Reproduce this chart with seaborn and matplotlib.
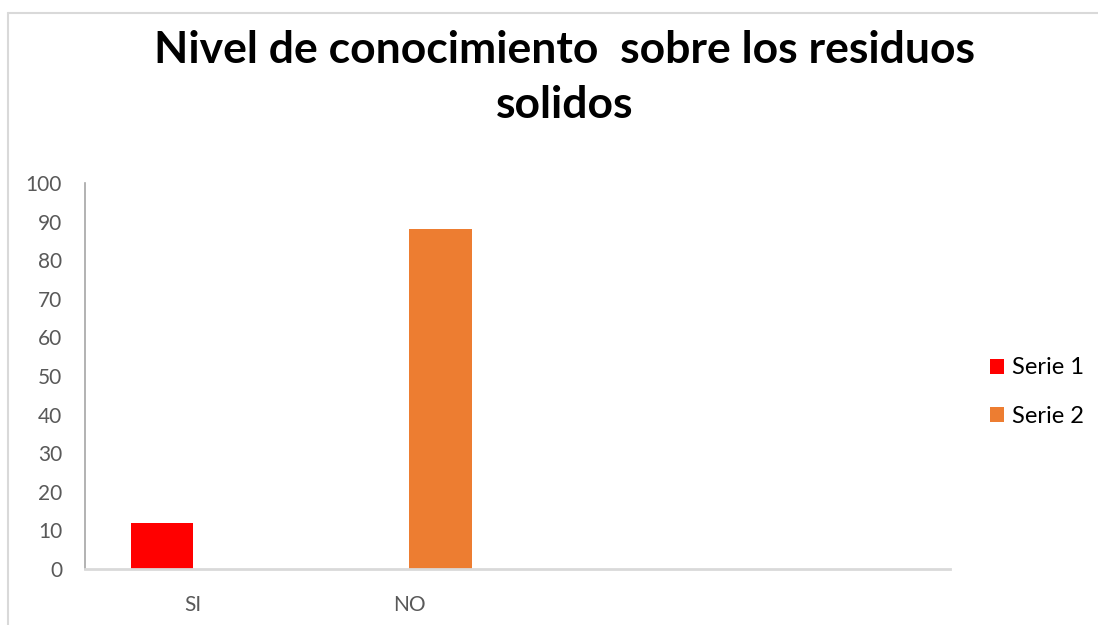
import matplotlib
matplotlib.use("Agg")
import matplotlib.pyplot as plt
from matplotlib.lines import Line2D
import pandas as pd
import seaborn as sns

# Survey answers per category and series
categories = ["SI", "NO"]
series_names = ["Serie 1", "Serie 2"]
serie1_values = [12, 0]
serie2_values = [0, 88]
y_ticks = [0, 10, 20, 30, 40, 50, 60, 70, 80, 90, 100]
title = "Nivel de conocimiento  sobre los residuos\nsolidos"

df = pd.DataFrame({
    "categoria": categories * 2,
    "serie": [series_names[0]] * len(categories) + [series_names[1]] * len(categories),
    "valor": serie1_values + serie2_values,
})

sns.set_theme(style="white")
plt.rcParams["font.family"] = ["Lato", "DejaVu Sans"]

fig = plt.figure(figsize=(10.98, 6.25), dpi=100)
ax = fig.add_axes([0.0774, 0.0896, 0.7880, 0.6176])

palette = {series_names[0]: "#FF0000", series_names[1]: "#ED7D31"}
sns.barplot(data=df, x="categoria", y="valor", hue="serie", order=categories,
            hue_order=series_names, palette=palette, width=0.574, dodge=True,
            linewidth=0, saturation=1, ax=ax)

# Two more empty category slots to the right
ax.set_xlim(-0.5, 3.5)
ax.set_ylim(0, 100)
ax.set_yticks(y_ticks)
ax.set_yticklabels([str(v) for v in y_ticks])
ax.set_xlabel("")
ax.set_ylabel("")
ax.tick_params(axis="both", length=0, labelsize=15, labelcolor="#595959")
ax.tick_params(axis="y", pad=16.5)
ax.tick_params(axis="x", pad=19)

for side in ["top", "right"]:
    ax.spines[side].set_visible(False)
ax.spines["left"].set_color("#a6a6a6")
ax.spines["left"].set_linewidth(1.2)
ax.spines["bottom"].set_color("#d9d9d9")
ax.spines["bottom"].set_linewidth(2)

fig.text(0.514, 1 - 77.5 / 625, title, ha="center", va="center", fontsize=32,
         fontweight="bold", color="black", linespacing=1.46)

ax.legend_.remove()
handles, labels = ax.get_legend_handles_labels()
fig.legend(handles, labels, loc="center left", bbox_to_anchor=(0.882, 1 - 392 / 625),
           frameon=False, fontsize=17, handlelength=0.6, handleheight=0.6,
           handletextpad=0.35, labelspacing=1.15, labelcolor="black")

# Chart area border
fig.add_artist(Line2D([7.5 / 1098, 7.5 / 1098], [0, 1 - 12.5 / 625],
                      transform=fig.transFigure, color="#d9d9d9", linewidth=1.5))
fig.add_artist(Line2D([7.5 / 1098, 1], [1 - 12.5 / 625, 1 - 12.5 / 625],
                      transform=fig.transFigure, color="#d9d9d9", linewidth=1.5))

fig.savefig("out.png", dpi=100, facecolor="white")
